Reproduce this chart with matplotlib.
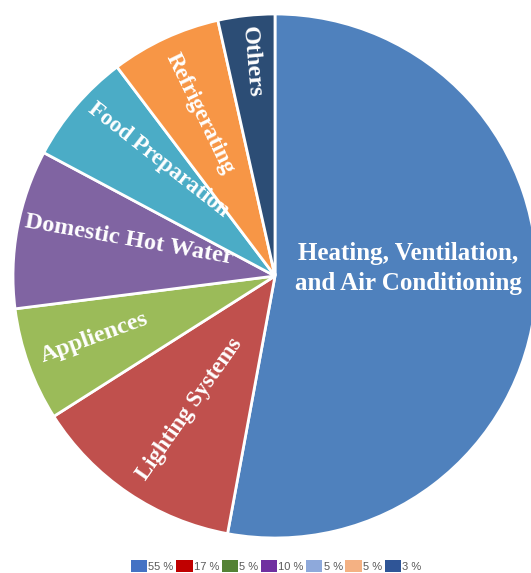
import matplotlib.pyplot as plt
from matplotlib.patches import Patch

# slice shares as drawn (percent)
labels = ["Heating, Ventilation,\nand Air Conditioning", "Lighting Systems", "Appliences",
          "Domestic Hot Water", "Food Preparation", "Refrigerating", "Others"]
shares = [52.9, 13.1, 7.0, 9.8, 6.9, 6.8, 3.5]
colors = ["#4F81BD", "#C0504D", "#9BBB59", "#8064A2", "#4BACC6", "#F79646", "#2C4D75"]

# legend entries as printed under the chart
legend_text = ["55 %", "17 %", "5 %", "10 %", "5 %", "5 %", "3 %"]
legend_colors = ["#4472C4", "#C00000", "#548235", "#7030A0", "#8EA9DB", "#F4B183", "#2F5597"]

# label placement inside the pie (data units, radius = 1), text angle and size
label_pos = [(0.508, 0.028), (-0.324, -0.508), (-0.691, -0.237), (-0.557, 0.137),
             (-0.443, 0.443), (-0.286, 0.618), (-0.088, 0.817)]
label_rot = [0, 55, 20, -10, -38, -64, -85]
label_size = [18, 16.5, 17.5, 17.5, 16.5, 16.5, 17.5]

fig = plt.figure(figsize=(5.31, 5.73), dpi=100)
ax = fig.add_axes([13 / 531, 35 / 573, 524 / 531, 524 / 573])

wedges, _ = ax.pie(shares, colors=colors, startangle=90, counterclock=False,
                   wedgeprops=dict(edgecolor="white", linewidth=2))
ax.set_xlim(-1, 1)
ax.set_ylim(-1, 1)
ax.set_aspect("equal")
ax.axis("off")

font = dict(family="Liberation Serif", weight="bold", color="white")

for i in range(len(labels)):
    x, y = label_pos[i]
    ax.text(x, y, labels[i], ha="center", va="center", rotation=label_rot[i],
            rotation_mode="anchor", fontsize=label_size[i], linespacing=1.4, **font)

handles = [Patch(facecolor=c, edgecolor="none") for c in legend_colors]
fig.legend(handles, legend_text, loc="center", bbox_to_anchor=(0.52, 0.0122), ncol=7,
           frameon=False, prop=dict(family="Liberation Sans", size=8), labelcolor="#595959",
           handlelength=1.45, handleheight=1.3, handletextpad=0.1, columnspacing=0.25,
           borderaxespad=0, borderpad=0)

fig.savefig("out.png", dpi=100)
